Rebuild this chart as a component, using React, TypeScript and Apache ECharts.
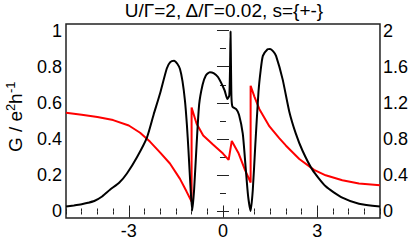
import React, { useEffect, useRef } from "react";
import * as echarts from "echarts";

const FONT = "'Liberation Sans', Arial, Helvetica, sans-serif";

// Black curve: G (left axis)
const gX = [-5.0, -4.75, -4.5, -4.3, -4.1, -3.85, -3.6, -3.3, -3.06, -2.74, -2.42, -2.21, -2.0, -1.79, -1.68, -1.56, -1.45, -1.37, -1.29, -1.21, -1.15, -1.1, -1.03, -0.98, -0.92, -0.84, -0.76, -0.65, -0.55, -0.42, -0.3, -0.16, 0.05, 0.14, 0.2, 0.225, 0.24, 0.255, 0.27, 0.3, 0.42, 0.51, 0.63, 0.72, 0.8, 0.88, 0.95, 1.03, 1.13, 1.2, 1.27, 1.42, 1.5, 1.6, 1.69, 1.9, 2.11, 2.32, 2.53, 2.85, 3.27, 3.8, 4.33, 5.0];
const gY = [0.027, 0.033, 0.04, 0.048, 0.058, 0.083, 0.12, 0.16, 0.21, 0.3, 0.41, 0.535, 0.655, 0.79, 0.825, 0.833, 0.815, 0.787, 0.72, 0.61, 0.48, 0.34, 0.12, 0.005, 0.12, 0.37, 0.59, 0.7, 0.75, 0.77, 0.765, 0.743, 0.67, 0.622, 0.64, 0.8, 0.995, 0.8, 0.63, 0.58, 0.565, 0.535, 0.43, 0.247, 0.085, 0.003, 0.12, 0.37, 0.66, 0.78, 0.86, 0.896, 0.898, 0.885, 0.86, 0.73, 0.553, 0.43, 0.337, 0.23, 0.139, 0.076, 0.043, 0.027];

// Red curve (right axis)
const rX = [-5.0, -4.5, -4.0, -3.5, -3.0, -2.64, -2.32, -2.0, -1.69, -1.37, -1.16, -1.0, -1.0, -0.84, -0.63, -0.32, 0.0, 0.18, 0.28, 0.5, 0.7, 0.88, 0.88, 1.0, 1.16, 1.48, 1.79, 2.0, 2.43, 2.9, 3.27, 3.8, 4.33, 5.0];
const rY = [1.09, 1.07, 1.045, 1.01, 0.95, 0.87, 0.77, 0.65, 0.53, 0.36, 0.22, 0.11, 1.15, 0.97, 0.84, 0.74, 0.64, 0.57, 0.78, 0.64, 0.46, 0.32, 1.39, 1.27, 1.13, 0.94, 0.81, 0.73, 0.58, 0.46, 0.4, 0.345, 0.31, 0.29];

const xMinorTicks = [-5, -4.5, -4, -3.5, -3, -2.5, -2, -1.5, -1, -0.5, 0, 0.5, 1, 1.5, 2, 2.5, 3, 3.5, 4, 4.5, 5];
const xMajorTicks = [-3, 0, 3];
const leftMinorTicks = [0, 0.1, 0.2, 0.3, 0.4, 0.5, 0.6, 0.7, 0.8, 0.9, 1];
const leftMajorTicks = [0, 0.2, 0.4, 0.6, 0.8, 1];
const rightMinorTicks = [0, 0.2, 0.4, 0.6, 0.8, 1, 1.2, 1.4, 1.6, 1.8, 2];
const rightMajorTicks = [0, 0.4, 0.8, 1.2, 1.6, 2];

const TITLE = "U/Γ=2, Δ/Γ=0.02, s={+-}";

export default function App() {
  const ref = useRef<HTMLDivElement>(null);
  useEffect(() => {
    if (!ref.current) return;
    const chart = echarts.init(ref.current, undefined, { renderer: "svg" });
    const frame = "#222";
    const labelStyle = { color: "#000", fontSize: 18, fontFamily: FONT };
    const xAx = (pos: string, ticks: number[], len: number, labels: boolean) => ({
      type: "value",
      position: pos,
      min: -5,
      max: 5,
      axisLine: { show: false },
      splitLine: { show: false },
      axisTick: { show: true, inside: true, length: len, customValues: ticks, lineStyle: { color: frame, width: 1 } },
      axisLabel: labels
        ? { show: true, customValues: xMajorTicks, margin: 4, ...labelStyle }
        : { show: false },
    });
    const yAx = (pos: string, min: number, max: number, ticks: number[], len: number, labelVals: number[] | null, margin: number) => ({
      type: "value",
      position: pos,
      min,
      max,
      axisLine: { show: false },
      splitLine: { show: false },
      axisTick: { show: true, inside: true, length: len, customValues: ticks, lineStyle: { color: frame, width: 1 } },
      axisLabel: labelVals
        ? { show: true, customValues: labelVals, margin, ...labelStyle }
        : { show: false },
    });
    chart.setOption({
      animation: false,
      grid: { left: 66, right: 29, top: 24, bottom: 17, show: true, borderColor: frame, borderWidth: 1.5, backgroundColor: "transparent" },
      xAxis: [
        xAx("bottom", xMinorTicks, 3, true),
        xAx("bottom", xMajorTicks, 6, false),
        xAx("top", xMinorTicks, 3, false),
        xAx("top", xMajorTicks, 6, false),
      ],
      yAxis: [
        yAx("left", -0.036, 1.036, leftMinorTicks, 3, leftMajorTicks, 4),
        yAx("left", -0.036, 1.036, leftMajorTicks, 6, null, 4),
        yAx("right", -0.072, 2.072, rightMinorTicks, 3, rightMajorTicks, 3),
        yAx("right", -0.072, 2.072, rightMajorTicks, 6, null, 3),
      ],
      series: [
        {
          type: "line",
          xAxisIndex: 0,
          yAxisIndex: 2,
          data: rX.map((x, i) => [x, rY[i]]),
          showSymbol: false,
          lineStyle: { color: "#ff0000", width: 2 },
          z: 2,
        },
        {
          type: "line",
          xAxisIndex: 0,
          yAxisIndex: 0,
          data: gX.map((x, i) => [x, gY[i]]),
          showSymbol: false,
          smooth: 0.2,
          lineStyle: { color: "#000", width: 2 },
          z: 3,
        },
      ],
      graphic: [
        {
          type: "text",
          x: 224,
          y: 1,
          style: { text: TITLE, fontSize: 19, fontFamily: FONT, fill: "#000", align: "center", verticalAlign: "top" },
        },
        {
          type: "group",
          x: 25,
          y: 152,
          rotation: Math.PI / 2,
          children: [
            { type: "text", x: 0, y: 0, style: { text: "G / e", fontSize: 19, fontFamily: FONT, fill: "#000", align: "left", verticalAlign: "bottom" } },
            { type: "text", x: 41, y: -8, style: { text: "2", fontSize: 13, fontFamily: FONT, fill: "#000", align: "left", verticalAlign: "bottom" } },
            { type: "text", x: 48, y: 0, style: { text: "h", fontSize: 19, fontFamily: FONT, fill: "#000", align: "left", verticalAlign: "bottom" } },
            { type: "text", x: 59, y: -8, style: { text: "-1", fontSize: 13, fontFamily: FONT, fill: "#000", align: "left", verticalAlign: "bottom" } },
          ],
        },
      ],
    });
    return () => chart.dispose();
  }, []);
  return <div ref={ref} style={{ position: "absolute", left: 0, top: 0, width: 411, height: 240 }} />;
}
